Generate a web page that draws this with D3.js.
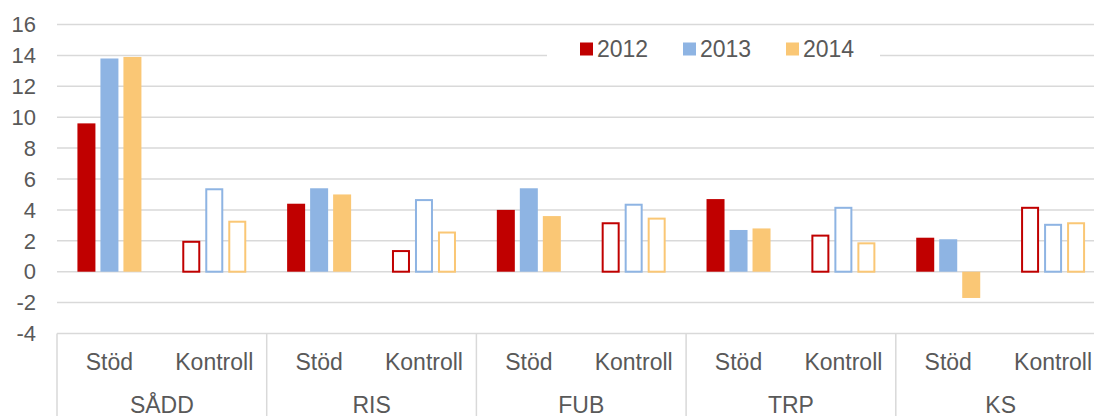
<!DOCTYPE html>
<html>
<head>
<meta charset="utf-8">
<script src="https://cdn.jsdelivr.net/npm/d3@7"></script>
<style>
  body { margin: 0; background: #fff; }
  text { font-family: "Liberation Sans", Arial, sans-serif; fill: #595959; }
</style>
</head>
<body>
<svg width="1094" height="416"></svg>
<script>
// data
var groups = ["SÅDD", "RIS", "FUB", "TRP", "KS"]
var subs = ["Stöd", "Kontroll"]
var years = ["2012", "2013", "2014"]
var colors = ["#C00000", "#8EB4E3", "#FAC775"]
var yTicks = [-4, -2, 0, 2, 4, 6, 8, 10, 12, 14, 16]

// one array per year, order: SÅDD Stöd, SÅDD Kontroll, RIS Stöd, ...
var v2012 = [9.6, 2.0, 4.4, 1.4, 4.0, 3.2, 4.7, 2.4, 2.2, 4.2]
var v2013 = [13.8, 5.4, 5.4, 4.7, 5.4, 4.4, 2.7, 4.2, 2.1, 3.1]
var v2014 = [13.9, 3.3, 5.0, 2.6, 3.6, 3.5, 2.8, 1.9, -1.7, 3.2]
var series = [v2012, v2013, v2014]

var dims = {width: 1094, height: 416, left: 57, right: 1105.5, top: 24.5, bottom: 333.5}

var svg = d3.select("svg")

// slot keys for every group/sub pair
var slots = []
groups.forEach(g => subs.forEach(s => slots.push(g + "|" + s)))

var xGroup = d3.scaleBand().domain(groups).range([dims.left, dims.right])
var xSlot = d3.scaleBand().domain(slots).range([dims.left, dims.right])
var inner = 64 / 104.85 * xSlot.bandwidth()
var xYear = d3.scaleBand().domain(years)
    .range([(xSlot.bandwidth() - inner) / 2, (xSlot.bandwidth() + inner) / 2])
    .paddingInner(0.2174)

var y = d3.scaleLinear().domain([-4, 16]).range([dims.bottom, dims.top])

// gridlines
svg.append("g").selectAll("line")
    .data(yTicks)
    .enter().append("line")
    .attr("x1", dims.left).attr("x2", dims.width)
    .attr("y1", d => y(d)).attr("y2", d => y(d))
    .attr("stroke", "#d9d9d9").attr("stroke-width", 1.5)

// y tick labels
svg.append("g").selectAll("text")
    .data(yTicks)
    .enter().append("text")
    .attr("x", 36).attr("y", d => y(d))
    .attr("dy", "0.35em")
    .attr("text-anchor", "end")
    .style("font-size", "22px")
    .text(d => d)

// bars
var bars = []
series.forEach((vals, i) => {
    vals.forEach((v, j) => bars.push({year: years[i], color: colors[i], slot: slots[j], value: v}))
})

svg.append("g").selectAll("rect")
    .data(bars)
    .enter().append("rect")
    .each(function(d) {
        var x0 = xSlot(d.slot) + xYear(d.year)
        var w = xYear.bandwidth()
        var y0 = Math.min(y(d.value), y(0))
        var h = Math.abs(y(d.value) - y(0))
        var outline = d.slot.endsWith("Kontroll")
        var r = d3.select(this)
        if (outline) {
            r.attr("x", x0 + 1).attr("y", y0 + 1)
             .attr("width", w - 2).attr("height", Math.max(0, h - 1))
             .attr("fill", "#fff").attr("stroke", d.color).attr("stroke-width", 2)
        } else {
            r.attr("x", x0).attr("y", y0).attr("width", w).attr("height", h)
             .attr("fill", d.color)
        }
    })

// category axis: separators
var seps = groups.map(g => xGroup(g)).concat([dims.right])
svg.append("g").selectAll("line")
    .data(seps)
    .enter().append("line")
    .attr("x1", d => d).attr("x2", d => d)
    .attr("y1", dims.bottom).attr("y2", dims.height)
    .attr("stroke", "#d9d9d9").attr("stroke-width", 1.5)

// sub labels
svg.append("g").selectAll("text")
    .data(slots)
    .enter().append("text")
    .attr("x", d => xSlot(d) + xSlot.bandwidth() / 2)
    .attr("y", 370)
    .attr("text-anchor", "middle")
    .style("font-size", "23px")
    .text(d => d.split("|")[1])

// group labels (cut by the bottom edge, as in the original)
svg.append("g").selectAll("text")
    .data(groups)
    .enter().append("text")
    .attr("x", d => xGroup(d) + xGroup.bandwidth() / 2)
    .attr("y", 413)
    .attr("text-anchor", "middle")
    .style("font-size", "23px")
    .text(d => d)

// legend
var legend = svg.append("g")
legend.append("rect")
    .attr("x", 547).attr("y", 32).attr("width", 333).attr("height", 34)
    .attr("fill", "#fff")

var items = legend.selectAll("g.item")
    .data(years)
    .enter().append("g")
    .attr("class", "item")
    .attr("transform", (d, i) => "translate(" + (580 + i * 103) + ",0)")

items.append("rect")
    .attr("x", 0).attr("y", 42.5).attr("width", 13).attr("height", 13)
    .attr("fill", (d, i) => colors[i])

items.append("text")
    .attr("x", 17).attr("y", 57)
    .style("font-size", "23px")
    .text(d => d)
</script>
</body>
</html>
